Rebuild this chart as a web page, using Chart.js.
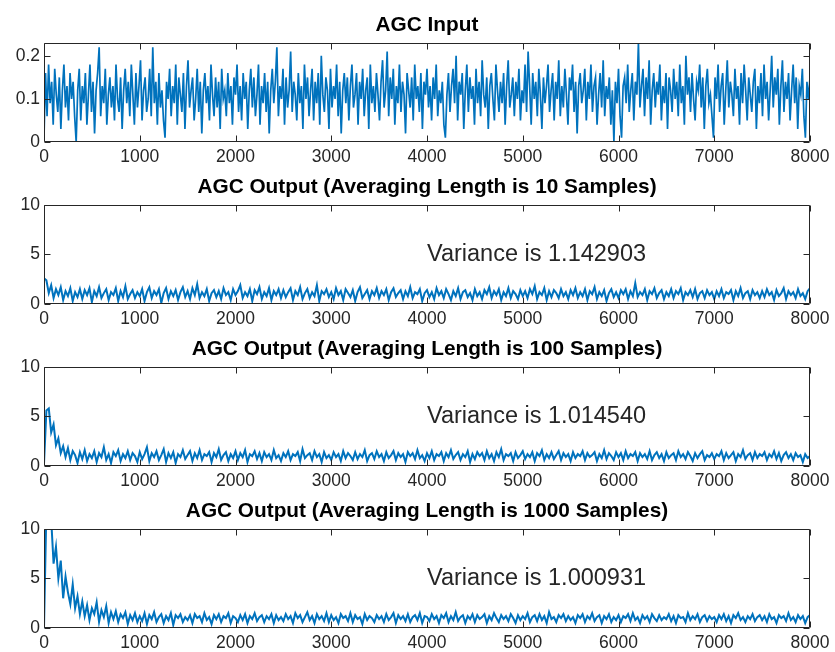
<!DOCTYPE html>
<html>
<head>
<meta charset="utf-8">
<script src="https://cdn.jsdelivr.net/npm/chart.js@4.4.1/dist/chart.umd.min.js"></script>
<style>
  html, body { margin: 0; padding: 0; background: #fff; }
  body { width: 835px; height: 652px; overflow: hidden; position: relative; }
  canvas { position: absolute; left: 0; }
</style>
</head>
<body>
<canvas id="p0" width="835" height="169"></canvas>
<canvas id="p1" width="835" height="169"></canvas>
<canvas id="p2" width="835" height="169"></canvas>
<canvas id="p3" width="835" height="169"></canvas>
<script>
// sample spacing of the values below
const INPUT_STEP = 16;   // input: one value every 16 samples
const OUTPUT_STEP = 25;  // outputs: one value every 25 samples

const xTickValues = [0, 1000, 2000, 3000, 4000, 5000, 6000, 7000, 8000];
const inputTicks = [0, 0.1, 0.2];
const outputTicks = [0, 5, 10];

const titles = [
    'AGC Input',
    'AGC Output (Averaging Length is 10 Samples)',
    'AGC Output (Averaging Length is 100 Samples)',
    'AGC Output (Averaging Length is 1000 Samples)'
];
const varianceLabels = [null, 'Variance is 1.142903', 'Variance is 1.014540', 'Variance is 1.000931'];

const inputSignal = [
    0.01, 0.16, 0.06, 0.18, 0.09, 0.14, 0.04, 0.17, 0.11, 0.07, 0.15, 0.03, 0.12, 0.18, 0.08, 0.13, 0.05, 0.16, 0.10, 0.14, 0.06, 0.00, 0.12, 0.17, 0.05,
    0.13, 0.09, 0.16, 0.04, 0.11, 0.18, 0.07, 0.14, 0.02, 0.12, 0.16, 0.22, 0.06, 0.13, 0.09, 0.17, 0.04, 0.11, 0.15, 0.08, 0.13, 0.05, 0.18, 0.10, 0.07,
    0.15, 0.03, 0.12, 0.17, 0.09, 0.14, 0.06, 0.18, 0.11, 0.04, 0.16, 0.08, 0.13, 0.19, 0.05, 0.12, 0.15, 0.07, 0.10, 0.17, 0.06, 0.22, 0.09, 0.14, 0.04,
    0.16, 0.08, 0.12, 0.05, 0.01, 0.14, 0.10, 0.17, 0.06, 0.13, 0.09, 0.18, 0.04, 0.15, 0.11, 0.07, 0.16, 0.03, 0.13, 0.19, 0.08, 0.12, 0.15, 0.05, 0.10,
    0.17, 0.07, 0.14, 0.02, 0.12, 0.16, 0.09, 0.13, 0.05, 0.18, 0.11, 0.06, 0.15, 0.08, 0.14, 0.03, 0.17, 0.10, 0.12, 0.06, 0.16, 0.09, 0.13, 0.04, 0.15,
    0.11, 0.18, 0.07, 0.13, 0.05, 0.16, 0.10, 0.14, 0.03, 0.12, 0.17, 0.08, 0.15, 0.06, 0.11, 0.18, 0.04, 0.13, 0.09, 0.16, 0.07, 0.14, 0.02, 0.12, 0.17,
    0.09, 0.14, 0.22, 0.06, 0.13, 0.10, 0.17, 0.04, 0.15, 0.08, 0.12, 0.21, 0.07, 0.14, 0.11, 0.05, 0.16, 0.09, 0.13, 0.03, 0.18, 0.10, 0.15, 0.06, 0.12,
    0.17, 0.05, 0.14, 0.09, 0.16, 0.04, 0.20, 0.11, 0.07, 0.15, 0.12, 0.03, 0.17, 0.08, 0.13, 0.10, 0.18, 0.06, 0.14, 0.02, 0.12, 0.16, 0.09, 0.15, 0.05,
    0.13, 0.18, 0.08, 0.11, 0.16, 0.04, 0.14, 0.10, 0.17, 0.06, 0.12, 0.15, 0.03, 0.18, 0.09, 0.13, 0.07, 0.16, 0.11, 0.05, 0.14, 0.19, 0.08, 0.12, 0.21,
    0.06, 0.15, 0.10, 0.17, 0.04, 0.13, 0.09, 0.18, 0.07, 0.14, 0.11, 0.02, 0.16, 0.12, 0.08, 0.15, 0.05, 0.18, 0.10, 0.13, 0.07, 0.16, 0.03, 0.14, 0.11,
    0.17, 0.08, 0.13, 0.05, 0.15, 0.10, 0.18, 0.06, 0.12, 0.09, 0.14, 0.04, 0.01, 0.11, 0.16, 0.07, 0.13, 0.17, 0.09, 0.20, 0.05, 0.14, 0.11, 0.16, 0.03,
    0.12, 0.18, 0.07, 0.15, 0.10, 0.13, 0.04, 0.17, 0.09, 0.14, 0.06, 0.19, 0.11, 0.08, 0.15, 0.03, 0.13, 0.16, 0.10, 0.05, 0.18, 0.12, 0.07, 0.14, 0.09,
    0.16, 0.04, 0.13, 0.19, 0.08, 0.11, 0.15, 0.06, 0.14, 0.10, 0.17, 0.05, 0.12, 0.09, 0.18, 0.07, 0.21, 0.13, 0.04, 0.16, 0.10, 0.14, 0.06, 0.17, 0.11,
    0.03, 0.15, 0.09, 0.13, 0.18, 0.07, 0.12, 0.16, 0.05, 0.14, 0.10, 0.19, 0.06, 0.13, 0.08, 0.17, 0.11, 0.04, 0.15, 0.12, 0.18, 0.07, 0.14, 0.02, 0.13,
    0.16, 0.09, 0.12, 0.17, 0.05, 0.14, 0.10, 0.18, 0.07, 0.13, 0.15, 0.04, 0.11, 0.16, 0.08, 0.19, 0.06, 0.13, 0.10, 0.15, 0.04, 0.12, 0.00, 0.14, 0.09,
    0.17, 0.06, 0.01, 0.13, 0.15, 0.09, 0.18, 0.07, 0.12, 0.16, 0.05, 0.14, 0.11, 0.23, 0.08, 0.13, 0.17, 0.06, 0.15, 0.10, 0.19, 0.04, 0.12, 0.16, 0.08,
    0.14, 0.11, 0.18, 0.05, 0.13, 0.09, 0.16, 0.03, 0.15, 0.12, 0.07, 0.17, 0.10, 0.14, 0.06, 0.18, 0.09, 0.13, 0.04, 0.20, 0.11, 0.15, 0.07, 0.16, 0.10,
    0.05, 0.14, 0.12, 0.18, 0.08, 0.15, 0.03, 0.13, 0.17, 0.09, 0.11, 0.06, 0.01, 0.15, 0.10, 0.18, 0.07, 0.13, 0.16, 0.04, 0.12, 0.19, 0.08, 0.14, 0.11,
    0.06, 0.17, 0.10, 0.13, 0.04, 0.16, 0.09, 0.18, 0.12, 0.05, 0.15, 0.11, 0.07, 0.14, 0.17, 0.03, 0.13, 0.09, 0.16, 0.06, 0.18, 0.10, 0.14, 0.05, 0.12,
    0.20, 0.08, 0.15, 0.11, 0.17, 0.04, 0.13, 0.19, 0.07, 0.14, 0.10, 0.16, 0.05, 0.12, 0.18, 0.09, 0.15, 0.03, 0.13, 0.11, 0.17, 0.06, 0.01, 0.14, 0.10,
    0.15
];

const output10 = [
    2.6, 2.4, 1.1, 1.9, 0.6, 1.5, 0.9, 1.7, 0.4, 1.3, 0.8, 1.6, 0.3, 1.2, 0.7, 1.5, 0.5, 1.4, 0.9, 1.6,
    0.2, 1.3, 0.8, 1.7, 0.6, 1.1, 1.5, 0.4, 1.2, 0.9, 1.6, 0.3, 1.3, 0.7, 1.8, 0.5, 1.0, 1.4, 0.6, 1.2,
    0.8, 1.5, 0.3, 1.2, 1.7, 0.6, 1.3, 0.9, 1.5, 0.1, 1.1, 1.6, 0.5, 1.3, 0.8, 1.4, 0.4, 1.2, 1.7, 0.7,
    1.3, 0.5, 1.6, 0.9, 2.0, 0.6, 1.2, 0.8, 1.5, 0.3, 1.1, 1.4, 0.7, 1.3, 0.5, 1.6, 0.9, 1.2, 0.4, 1.5,
    0.9, 1.3, 1.9, 0.6, 1.2, 0.8, 1.5, 0.3, 1.4, 1.0, 1.7, 0.5, 1.2, 0.8, 1.6, 0.4, 1.3, 0.9, 1.5, 0.6,
    1.4, 0.7, 1.2, 1.6, 0.4, 1.3, 0.9, 1.7, 0.5, 1.1, 1.5, 0.6, 1.2, 0.8, 1.9, 0.3, 1.3, 1.0, 1.5, 0.7,
    1.2, 0.5, 1.6, 0.9, 1.3, 0.4, 1.5, 1.1, 0.7, 1.4, 0.3, 1.2, 1.7, 0.6, 1.0, 1.4, 0.5, 1.3, 0.9, 1.6,
    0.6, 1.3, 0.9, 1.5, 0.4, 1.2, 1.6, 0.7, 1.1, 1.4, 0.5, 1.3, 0.8, 1.7, 0.6, 1.2, 1.0, 1.5, 0.3, 1.1,
    1.4, 0.7, 1.2, 0.5, 1.6, 0.9, 1.3, 0.6, 1.5, 1.0, 0.4, 1.3, 0.8, 1.6, 0.5, 1.2, 1.4, 0.7, 1.1, 0.4,
    1.5, 0.8, 1.2, 0.5, 1.4, 1.0, 1.7, 0.6, 1.3, 0.9, 1.5, 0.4, 1.2, 0.8, 1.6, 0.6, 1.3, 1.0, 0.5, 1.4,
    0.8, 1.3, 0.6, 1.5, 1.0, 1.8, 0.5, 1.2, 0.9, 1.6, 0.4, 1.3, 0.7, 1.4, 1.1, 0.6, 1.5, 0.8, 1.2, 0.5,
    1.4, 0.9, 1.6, 0.6, 1.2, 0.8, 1.5, 0.4, 1.3, 1.0, 1.7, 0.5, 1.2, 0.8, 1.4, 0.3, 1.1, 1.5, 0.7, 1.2,
    0.6, 1.4, 1.0, 1.5, 0.5, 1.3, 0.8, 2.1, 0.7, 1.2, 0.9, 1.5, 0.4, 1.3, 1.0, 1.6, 0.6, 1.1, 1.4, 0.5,
    1.2, 0.8, 1.5, 0.6, 1.3, 1.0, 1.6, 0.4, 1.2, 0.9, 1.4, 0.7, 1.5, 0.5, 1.1, 1.3, 0.6, 1.4, 0.9, 1.2,
    0.5, 1.3, 0.8, 1.5, 0.6, 1.2, 1.0, 1.4, 0.4, 1.3, 0.8, 1.6, 0.6, 1.1, 1.3, 0.5, 1.4, 0.9, 1.2, 0.6,
    1.3, 0.7, 1.5, 0.9, 1.2, 0.4, 1.4, 0.8, 1.1, 1.6, 0.5, 1.3, 0.9, 1.2, 0.6, 1.5, 0.8, 1.1, 0.5, 1.3,
    1.6
];

const output100 = [
    0.2, 5.6, 5.8, 3.4, 4.2, 2.1, 2.8, 1.3, 2.0, 0.9, 1.8, 0.6, 1.5, 1.1, 0.3, 1.4, 0.7, 1.6, 0.5, 1.2,
    0.8, 1.5, 0.4, 1.3, 0.9, 1.9, 0.6, 1.2, 0.3, 1.4, 1.0, 1.6, 0.5, 1.2, 0.8, 1.5, 0.6, 1.3, 1.0, 0.4,
    1.4, 0.7, 1.2, 1.9, 0.5, 1.3, 0.9, 1.5, 0.6, 1.1, 1.7, 0.4, 1.3, 0.8, 1.4, 0.3, 1.2, 0.9, 1.6, 0.7,
    1.1, 1.5, 0.5, 1.3, 0.8, 1.6, 0.6, 1.2, 1.0, 1.4, 0.4, 1.3, 0.9, 1.7, 0.6, 1.1, 1.4, 0.5, 1.2, 0.8,
    1.5, 0.6, 1.3, 0.9, 1.6, 0.4, 1.2, 1.0, 1.5, 0.7, 1.3, 0.5, 1.4, 0.9, 1.2, 0.6, 1.6, 0.8, 1.1, 0.5,
    1.3, 0.9, 1.5, 0.6, 1.2, 1.0, 1.4, 0.5, 1.7, 0.8, 1.1, 1.3, 0.6, 1.5, 0.9, 1.2, 0.4, 1.4, 0.8, 1.1,
    0.6, 1.4, 0.9, 1.2, 0.5, 1.5, 0.8, 1.3, 1.0, 0.6, 1.4, 0.7, 1.2, 0.9, 1.6, 0.5, 1.1, 1.3, 0.7, 1.5,
    0.9, 1.2, 0.5, 1.4, 0.8, 1.1, 1.5, 0.6, 1.3, 0.9, 1.2, 0.4, 1.4, 1.0, 1.3, 0.7, 1.6, 0.8, 1.1, 0.5,
    1.3, 0.8, 1.5, 0.6, 1.2, 1.0, 1.4, 0.5, 1.3, 0.9, 1.6, 0.7, 1.1, 1.4, 0.6, 1.2, 0.9, 1.5, 0.4, 1.2,
    0.7, 1.4, 1.0, 1.3, 0.6, 1.5, 0.8, 1.2, 0.5, 1.4, 0.9, 1.7, 0.6, 1.2, 1.0, 1.3, 0.5, 1.4, 0.8, 1.1,
    1.5, 0.7, 1.2, 0.9, 1.4, 0.5, 1.3, 1.0, 1.6, 0.6, 1.2, 0.8, 1.4, 0.7, 1.1, 1.5, 0.6, 1.3, 0.9, 1.2,
    0.5, 1.4, 0.8, 1.2, 1.0, 1.5, 0.6, 1.3, 0.9, 1.1, 1.4, 0.5, 1.2, 0.8, 1.6, 0.7, 1.3, 1.0, 0.6, 1.4,
    0.9, 1.3, 0.6, 1.5, 0.8, 1.2, 1.0, 1.4, 0.5, 1.3, 0.9, 1.2, 0.7, 1.5, 0.6, 1.1, 1.4, 0.8, 1.2, 0.5,
    1.4, 0.8, 1.1, 1.3, 0.6, 1.5, 0.9, 1.2, 0.7, 1.4, 1.0, 0.5, 1.3, 0.8, 1.2, 1.5, 0.6, 1.1, 0.9, 1.3,
    0.7, 1.2, 1.0, 1.5, 0.6, 1.3, 0.8, 1.1, 1.4, 0.5, 1.2, 0.9, 1.6, 0.7, 1.1, 1.3, 0.6, 1.4, 0.8, 1.2,
    1.0, 1.4, 0.6, 1.2, 0.9, 1.5, 0.7, 1.3, 0.5, 1.1, 1.4, 0.8, 1.2, 0.6, 1.3, 0.9, 1.1, 0.4, 1.2, 0.8,
    1.0
];

const output1000 = [
    0.0, 12.0, 14.0, 11.0, 6.5, 8.2, 5.0, 6.8, 3.0, 5.2, 3.6, 2.4, 4.4, 2.0, 3.2, 1.4, 2.7, 1.2, 2.3, 0.8,
    2.0, 1.4, 2.6, 0.6, 1.8, 1.1, 2.2, 0.5, 1.6, 0.9, 1.7, 0.6, 1.4, 1.0, 1.6, 0.4, 1.3, 0.8, 1.5, 0.6,
    1.2, 0.7, 1.5, 0.4, 1.3, 0.9, 1.6, 0.6, 1.1, 1.4, 0.5, 1.2, 0.8, 1.5, 0.3, 1.3, 1.0, 1.4, 0.6, 1.1,
    0.8, 1.3, 0.5, 1.4, 1.0, 1.2, 0.6, 1.5, 0.8, 1.1, 0.4, 1.3, 0.9, 1.4, 0.6, 1.2, 1.0, 1.5, 0.5, 1.2,
    1.0, 0.6, 1.3, 0.8, 1.4, 0.5, 1.2, 0.9, 1.5, 0.7, 1.1, 1.3, 0.6, 1.2, 0.9, 1.4, 0.5, 1.3, 0.8, 1.1,
    0.7, 1.4, 0.9, 1.2, 0.5, 1.5, 1.0, 1.3, 0.6, 1.1, 1.6, 0.8, 1.2, 0.5, 1.4, 0.9, 1.2, 0.7, 1.5, 0.6,
    1.3, 0.8, 1.1, 0.5, 1.4, 1.0, 1.2, 0.7, 1.5, 0.6, 1.3, 0.9, 1.1, 0.4, 1.4, 0.8, 1.2, 1.0, 0.6, 1.3,
    0.9, 1.2, 0.6, 1.4, 0.8, 1.1, 1.5, 0.5, 1.3, 0.9, 1.2, 0.7, 1.4, 0.6, 1.1, 1.3, 0.8, 1.5, 0.5, 1.2,
    1.1, 0.7, 1.4, 0.9, 1.2, 0.5, 1.3, 1.0, 1.5, 0.6, 1.2, 0.8, 1.6, 0.7, 1.1, 1.3, 0.5, 1.2, 0.9, 1.4,
    0.6, 1.3, 0.9, 1.1, 1.4, 0.5, 1.2, 0.8, 1.5, 1.0, 0.6, 1.3, 0.9, 1.2, 0.7, 1.4, 1.0, 0.5, 1.3, 0.8,
    1.2, 0.9, 1.5, 0.6, 1.1, 1.3, 0.7, 1.4, 0.8, 1.2, 0.5, 1.6, 0.9, 1.1, 0.6, 1.3, 1.0, 1.4, 0.7, 1.2,
    0.8, 1.1, 0.5, 1.3, 1.0, 1.4, 0.6, 1.2, 0.9, 1.5, 0.7, 1.1, 1.3, 0.5, 1.2, 0.9, 1.4, 0.6, 1.1, 0.8,
    1.3, 0.6, 1.2, 1.0, 1.4, 0.7, 1.5, 0.8, 1.1, 0.5, 1.3, 0.9, 1.2, 0.6, 1.4, 1.0, 0.7, 1.3, 0.8, 1.1,
    0.9, 1.4, 0.7, 1.2, 0.5, 1.3, 1.0, 1.1, 0.6, 1.5, 0.8, 1.2, 0.9, 1.4, 0.6, 1.1, 1.3, 0.7, 1.2, 0.9,
    1.1, 0.6, 1.3, 0.9, 1.4, 0.7, 1.2, 0.5, 1.3, 1.0, 1.5, 0.8, 1.1, 0.6, 1.2, 0.9, 1.4, 0.7, 1.1, 1.3,
    0.8, 1.2, 0.6, 1.4, 0.9, 1.1, 0.5, 1.3, 1.0, 1.2, 0.7, 1.5, 0.8, 1.1, 0.6, 1.3, 0.9, 1.2, 0.5, 1.1,
    1.3
];

const FONT = '"Liberation Sans", Arial, Helvetica, sans-serif';
const AXIS_COLOR = '#262626';
const LINE_COLOR = '#0072BD';

// plot area tops in the page (each plot area is 100px tall)
const plotTops = [42, 204, 366, 528];
const TITLE_BLOCK = 29;

const panels = [
    { id: 'p0', values: inputSignal, step: INPUT_STEP, yMax: 0.23, yTicks: inputTicks, lineWidth: 1.7 },
    { id: 'p1', values: output10, step: OUTPUT_STEP, yMax: 10, yTicks: outputTicks, lineWidth: 2 },
    { id: 'p2', values: output100, step: OUTPUT_STEP, yMax: 10, yTicks: outputTicks, lineWidth: 2 },
    { id: 'p3', values: output1000, step: OUTPUT_STEP, yMax: 10, yTicks: outputTicks, lineWidth: 2 }
];

// MATLAB-like box with inward ticks, plus the variance note
const matlabAxes = {
    id: 'matlabAxes',
    afterDatasetsDraw(chart, args, opts) {
        const { ctx, chartArea: a } = chart;
        const x = chart.scales.x;
        const y = chart.scales.y;
        const tickLen = 6;
        ctx.save();
        ctx.strokeStyle = AXIS_COLOR;
        ctx.lineWidth = 1;
        ctx.beginPath();
        const L = Math.round(a.left) + 0.5, R = Math.round(a.right) - 0.5;
        const T = Math.round(a.top) + 0.5, B = Math.round(a.bottom) - 0.5;
        ctx.rect(L, T, R - L, B - T);
        xTickValues.forEach(v => {
            const px = Math.round(x.getPixelForValue(v)) + 0.5;
            ctx.moveTo(px, B); ctx.lineTo(px, B - tickLen);
            ctx.moveTo(px, T); ctx.lineTo(px, T + tickLen);
        });
        opts.yTicks.forEach(v => {
            const py = Math.round(y.getPixelForValue(v)) + 0.5;
            ctx.moveTo(L, py); ctx.lineTo(L + tickLen, py);
            ctx.moveTo(R, py); ctx.lineTo(R - tickLen, py);
        });
        ctx.stroke();
        if (opts.note) {
            ctx.fillStyle = AXIS_COLOR;
            ctx.font = '23.5px ' + FONT;
            ctx.textAlign = 'left';
            ctx.textBaseline = 'middle';
            ctx.fillText(opts.note, x.getPixelForValue(4000), y.getPixelForValue(5));
        }
        ctx.restore();
    }
};

panels.forEach((p, i) => {
    const canvas = document.getElementById(p.id);
    canvas.style.top = (plotTops[i] - TITLE_BLOCK) + 'px';

    new Chart(canvas, {
        type: 'line',
        data: {
            datasets: [{
                data: p.values.map((v, k) => ({ x: k * p.step, y: v })),
                borderColor: LINE_COLOR,
                borderWidth: p.lineWidth,
                pointRadius: 0,
                tension: 0,
                fill: false,
                clip: 0
            }]
        },
        plugins: [matlabAxes],
        options: {
            responsive: false,
            animation: false,
            devicePixelRatio: 1,
            layout: { padding: { left: 0, right: 25, top: 0, bottom: 0 } },
            plugins: {
                legend: { display: false },
                tooltip: { enabled: false },
                title: {
                    display: true,
                    text: titles[i],
                    fullSize: false,
                    color: '#000',
                    font: { family: FONT, size: 20.8, weight: 'bold' },
                    padding: { top: 0, bottom: 5 }
                },
                matlabAxes: { yTicks: p.yTicks, note: varianceLabels[i] }
            },
            scales: {
                x: {
                    type: 'linear',
                    min: 0,
                    max: 8000,
                    grid: { display: false, drawTicks: false },
                    border: { display: false },
                    ticks: {
                        color: AXIS_COLOR,
                        font: { family: FONT, size: 17.5 },
                        padding: 5,
                        maxRotation: 0,
                        autoSkip: false,
                        callback: v => String(v)
                    },
                    afterBuildTicks: s => { s.ticks = xTickValues.map(v => ({ value: v })); },
                    afterFit: s => { s.height = 40; }
                },
                y: {
                    type: 'linear',
                    min: 0,
                    max: p.yMax,
                    grid: { display: false, drawTicks: false },
                    border: { display: false },
                    ticks: {
                        color: AXIS_COLOR,
                        font: { family: FONT, size: 17.5 },
                        padding: 4,
                        callback: v => String(v)
                    },
                    afterBuildTicks: s => { s.ticks = p.yTicks.map(v => ({ value: v })); },
                    afterFit: s => { s.width = 44; }
                }
            }
        }
    });
});
</script>
</body>
</html>
